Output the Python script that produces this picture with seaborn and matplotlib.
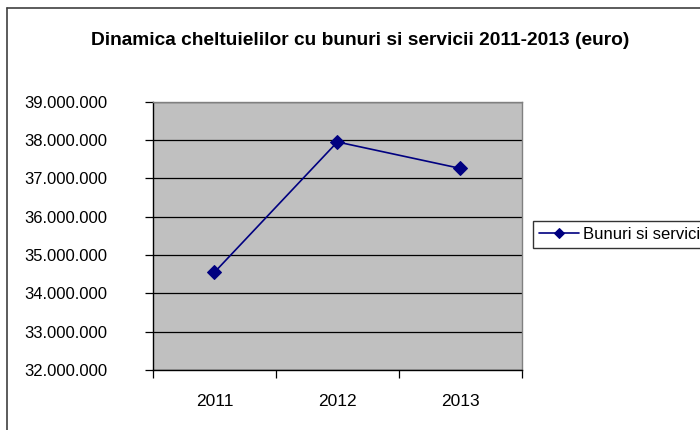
import matplotlib
matplotlib.use('Agg')
import numpy as np
import pandas as pd
import matplotlib.pyplot as plt
from matplotlib.lines import Line2D
from matplotlib.ticker import FuncFormatter, FixedLocator
import seaborn as sns

sns.set_theme(style="white")
plt.rcParams['font.family'] = ['Liberation Sans', 'DejaVu Sans']
plt.rcParams['text.color'] = 'black'
plt.rcParams['xtick.color'] = 'black'
plt.rcParams['ytick.color'] = 'black'

# data
ani = ["2011", "2012", "2013"]
cheltuieli = [34550000, 37950000, 37260000]
serie = "Bunuri si servicii"
y_ticks = [32000000, 33000000, 34000000, 35000000, 36000000, 37000000, 38000000, 39000000]

df = pd.DataFrame({"poz": np.arange(len(ani)), "valoare": cheltuieli, "serie": serie})

fig = plt.figure(figsize=(7, 4.3), dpi=100)
ax = fig.add_axes([0.2186, 0.1395, 0.5267, 0.624])
ax.set_facecolor("#C0C0C0")

sns.lineplot(data=df, x="poz", y="valoare", hue="serie", palette=["#000080"],
             marker="D", markersize=7, markeredgecolor="#000080",
             linewidth=1.2, ax=ax)

ax.set_xlim(-0.5, len(ani) - 0.5)
ax.set_ylim(y_ticks[0], y_ticks[-1])
ax.set_yticks(y_ticks)
ax.yaxis.set_major_formatter(FuncFormatter(lambda v, _: f"{v:,.0f}".replace(",", ".")))
ax.yaxis.grid(True, color="black", linewidth=0.9)
ax.set_axisbelow(True)

# category boundaries as major ticks, labels on minor ticks
ax.xaxis.set_major_locator(FixedLocator(np.arange(len(ani) + 1) - 0.5))
ax.xaxis.set_major_formatter(FuncFormatter(lambda v, _: ""))
ax.xaxis.set_minor_locator(FixedLocator(np.arange(len(ani))))
ax.set_xticklabels(ani, minor=True)
ax.tick_params(axis="x", which="major", length=6, width=0.9, color="black", direction="out", bottom=True)
ax.tick_params(axis="x", which="minor", length=0, pad=17, labelsize=12.5)
ax.tick_params(axis="y", which="major", length=6, width=0.9, color="black", direction="out",
               left=True, pad=27, labelsize=12)
ax.set_xlabel("")
ax.set_ylabel("")

for s in ["left", "bottom"]:
    ax.spines[s].set_color("black")
    ax.spines[s].set_linewidth(1.0)
for s in ["top", "right"]:
    ax.spines[s].set_color("#808080")
    ax.spines[s].set_linewidth(1.0)

handles, labels = ax.get_legend_handles_labels()
leg = ax.legend(handles, labels, loc="center left",
                bbox_to_anchor=(533 / 700, 1 - 234.5 / 430), bbox_transform=fig.transFigure,
                frameon=True, fancybox=False, shadow=False, fontsize=12,
                handlelength=2.4, handletextpad=0.25, borderpad=0.35, borderaxespad=0)
leg.get_frame().set_edgecolor("black")
leg.get_frame().set_linewidth(1.0)
for h in leg.legend_handles:
    h.set_markersize(5.5)

fig.text(0.515, 0.905, "Dinamica cheltuielilor cu bunuri si servicii 2011-2013 (euro)",
         ha="center", va="center", fontsize=13.8, fontweight="bold")

# outer chart frame (cut off on the right and bottom in the original)
fig.add_artist(Line2D([7 / 700, 7 / 700], [0, 1 - 8 / 430], transform=fig.transFigure,
                      color="#404040", linewidth=1.2))
fig.add_artist(Line2D([7 / 700, 1], [1 - 8 / 430, 1 - 8 / 430], transform=fig.transFigure,
                      color="#404040", linewidth=1.2))

fig.savefig("out.png", dpi=100)
